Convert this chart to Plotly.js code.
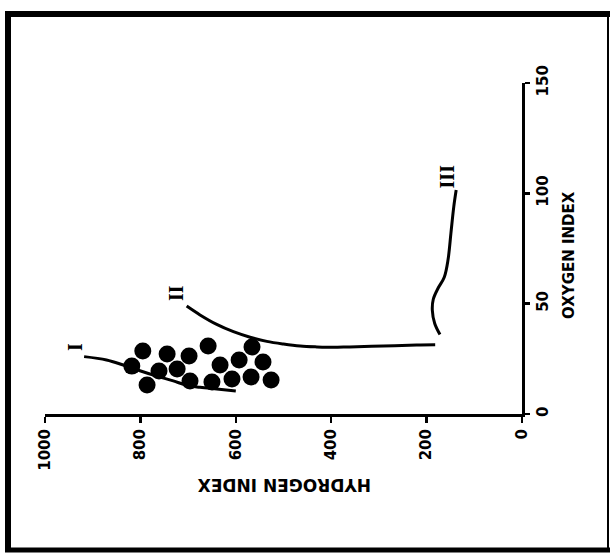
<!DOCTYPE html>
<html>
<head>
<meta charset="utf-8">
<script src="https://cdn.plot.ly/plotly-3.0.1.min.js"></script>
<style>html,body{margin:0;padding:0;background:#fff;}#chart{width:612px;height:555px;}</style>
</head>
<body>
<div id="chart"></div>
<script>
// Samples (hydrogen index vs oxygen index)
var sampleHI = [795, 744, 698, 658, 818, 761, 723, 633, 593, 566, 543, 786, 696, 650, 608, 568, 526];
var sampleOI = [28.5, 27.2, 26.3, 30.8, 21.7, 19.5, 20.4, 22.2, 24.5, 30.4, 23.6, 13.1, 15.0, 14.5, 15.9, 16.8, 15.4];

// Kerogen evolution path curves
var curveI_HI = [918, 871, 836, 801, 766, 731, 703, 675, 640, 600];
var curveI_OI = [26.0, 24.5, 22.2, 19.6, 17.2, 15.0, 13.0, 12.1, 11.3, 10.4];

var curveII_HI = [703, 675, 640, 605, 570, 535, 500, 465, 430, 396, 361, 291, 221, 182];
var curveII_OI = [48.9, 44.9, 40.6, 37.3, 34.8, 32.9, 31.7, 30.8, 30.4, 30.2, 30.4, 30.8, 31.3, 31.4];

var curveIII_HI = [172, 183, 188, 186, 176, 163, 155, 149, 143, 138];
var curveIII_OI = [36.0, 41.0, 47.0, 52.0, 57.0, 62.0, 70.0, 82.0, 94.0, 101.5];

var curveLabels = ["I", "II", "III"];
var curveLabelHI = [937, 724, 158];
var curveLabelOI = [30.4, 54.7, 107.5];

var hiTicks = [0, 200, 400, 600, 800, 1000];
var oiTicks = [0, 50, 100, 150];
var xTitle = "HYDROGEN INDEX";
var yTitle = "OXYGEN INDEX";

var lineStyle = {color: "#000", width: 3, shape: "spline", smoothing: 1};
var traces = [
  {x: curveI_HI, y: curveI_OI, mode: "lines", line: lineStyle, hoverinfo: "skip"},
  {x: curveII_HI, y: curveII_OI, mode: "lines", line: lineStyle, hoverinfo: "skip"},
  {x: curveIII_HI, y: curveIII_OI, mode: "lines", line: lineStyle, hoverinfo: "skip"},
  {x: sampleHI, y: sampleOI, mode: "markers", marker: {color: "#000", size: 17}}
];

// plot area pixels: x 45..522, y 83..414
function px(p){ return (p - 45) / 477; }
function py(p){ return (414 - p) / 331; }

var annotations = curveLabels.map(function(t, i){
  return {x: curveLabelHI[i], y: curveLabelOI[i], xref: "x", yref: "y", text: t, showarrow: false,
    textangle: -90, font: {family: "Liberation Serif, DejaVu Serif, serif", size: 20, color: "#000", weight: "bold"}};
});
annotations.push({x: px(285), y: py(497), xref: "paper", yref: "paper", text: "<b>" + xTitle + "</b>",
  showarrow: false, textangle: 180, font: {family: "DejaVu Sans, sans-serif", size: 17, color: "#000"}});
annotations.push({x: px(580), y: py(255), xref: "paper", yref: "paper", text: "<b>" + yTitle + "</b>",
  showarrow: false, textangle: -90, font: {family: "DejaVu Sans, sans-serif", size: 15, color: "#000"}});

var shapes = [
  {type: "line", xref: "paper", yref: "paper", x0: px(8), x1: px(8), y0: py(14), y1: py(551), line: {color: "#000", width: 6}},
  {type: "line", xref: "paper", yref: "paper", x0: px(5), x1: px(610), y0: py(14), y1: py(14), line: {color: "#000", width: 6}},
  {type: "line", xref: "paper", yref: "paper", x0: px(5), x1: px(610), y0: py(550), y1: py(550), line: {color: "#000", width: 5}},
  {type: "line", xref: "paper", yref: "paper", x0: px(608), x1: px(608), y0: py(14), y1: py(551), line: {color: "#000", width: 2}}
];

var tickFont = {family: "DejaVu Sans, sans-serif", size: 15, color: "#000", weight: "bold"};
var layout = {
  width: 612, height: 555,
  margin: {l: 45, r: 90, t: 83, b: 141, pad: 0},
  paper_bgcolor: "#fff", plot_bgcolor: "#fff",
  showlegend: false,
  xaxis: {range: [1000, 0], tickvals: hiTicks, ticktext: hiTicks.map(String), tickangle: -90,
    ticks: "outside", ticklen: 6, tickwidth: 2.5, tickcolor: "#000",
    showline: true, linewidth: 3, linecolor: "#000", showgrid: false, zeroline: false,
    tickfont: tickFont, fixedrange: true},
  yaxis: {range: [0, 150], side: "right", tickvals: oiTicks, ticktext: oiTicks.map(String), tickangle: -90,
    ticks: "outside", ticklen: 5, tickwidth: 2.5, tickcolor: "#000",
    showline: true, linewidth: 3, linecolor: "#000", showgrid: false, zeroline: false,
    tickfont: tickFont, fixedrange: true},
  annotations: annotations,
  shapes: shapes
};

Plotly.newPlot("chart", traces, layout, {displayModeBar: false, staticPlot: true});
</script>
</body>
</html>
